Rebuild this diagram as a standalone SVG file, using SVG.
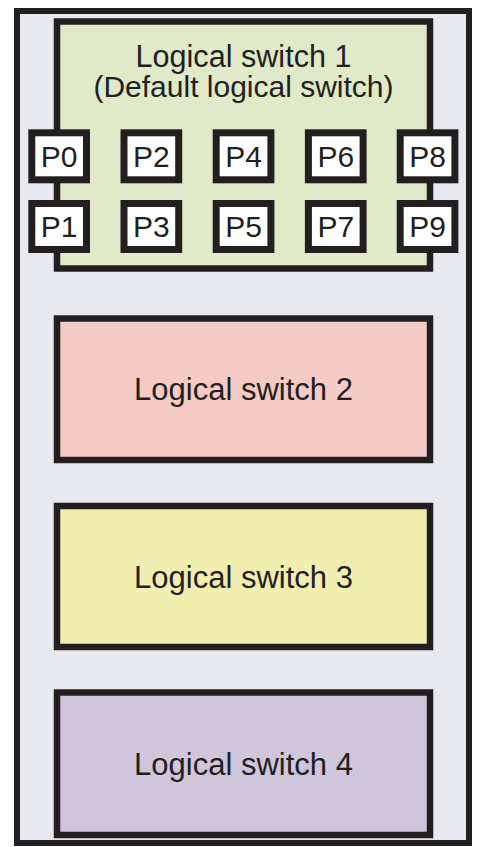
<svg xmlns="http://www.w3.org/2000/svg" width="477" height="847" viewBox="0 0 477 847">
<style>
  .box { stroke: #231f20; stroke-width: 6.5; }
  .port { fill: #ffffff; stroke: #231f20; stroke-width: 7; }
  .lbl { font-family: "Liberation Sans", Arial, sans-serif; font-size: 30px; fill: #231f20; text-anchor: middle; }
  .big { font-size: 31px; }
</style>
<rect width="477" height="847" fill="#ffffff"/>
<g id="chassis">
  <rect x="17" y="11" width="452" height="832" fill="#e8e9ee" stroke="#231f20" stroke-width="6"/>
</g>
<g id="switch1">
  <rect class="box" x="57" y="21.5" width="373" height="247" fill="#e0e9c8"/>
  <text class="lbl" x="243.5" y="67" style="font-size:30.6px">Logical switch 1</text>
  <text class="lbl" x="243.5" y="97">(Default logical switch)</text>
</g>
<g id="ports">
  <g id="P0"><rect class="port" x="31.8" y="132.8" width="54.7" height="47"/><text class="lbl" x="59.2" y="167">P0</text></g>
  <g id="P2"><rect class="port" x="124" y="132.8" width="54.7" height="47"/><text class="lbl" x="151.4" y="167">P2</text></g>
  <g id="P4"><rect class="port" x="216.2" y="132.8" width="54.7" height="47"/><text class="lbl" x="243.6" y="167">P4</text></g>
  <g id="P6"><rect class="port" x="308.4" y="132.8" width="54.7" height="47"/><text class="lbl" x="335.8" y="167">P6</text></g>
  <g id="P8"><rect class="port" x="400.2" y="132.8" width="54.7" height="47"/><text class="lbl" x="427.6" y="167">P8</text></g>
  <g id="P1"><rect class="port" x="31.8" y="203.5" width="54.7" height="46"/><text class="lbl" x="59.2" y="237">P1</text></g>
  <g id="P3"><rect class="port" x="124" y="203.5" width="54.7" height="46"/><text class="lbl" x="151.4" y="237">P3</text></g>
  <g id="P5"><rect class="port" x="216.2" y="203.5" width="54.7" height="46"/><text class="lbl" x="243.6" y="237">P5</text></g>
  <g id="P7"><rect class="port" x="308.4" y="203.5" width="54.7" height="46"/><text class="lbl" x="335.8" y="237">P7</text></g>
  <g id="P9"><rect class="port" x="400.2" y="203.5" width="54.7" height="46"/><text class="lbl" x="427.6" y="237">P9</text></g>
</g>
<g id="switch2">
  <rect class="box" x="57" y="318.5" width="373" height="141.5" fill="#f4cbc5"/>
  <text class="lbl big" x="243.5" y="400">Logical switch 2</text>
</g>
<g id="switch3">
  <rect class="box" x="57" y="506" width="373" height="141" fill="#f1eeb0"/>
  <text class="lbl big" x="243.5" y="588">Logical switch 3</text>
</g>
<g id="switch4">
  <rect class="box" x="57" y="692.5" width="373" height="142.5" fill="#cfc6dc"/>
  <text class="lbl big" x="243.5" y="775">Logical switch 4</text>
</g>
<g id="connectors"></g>
</svg>
